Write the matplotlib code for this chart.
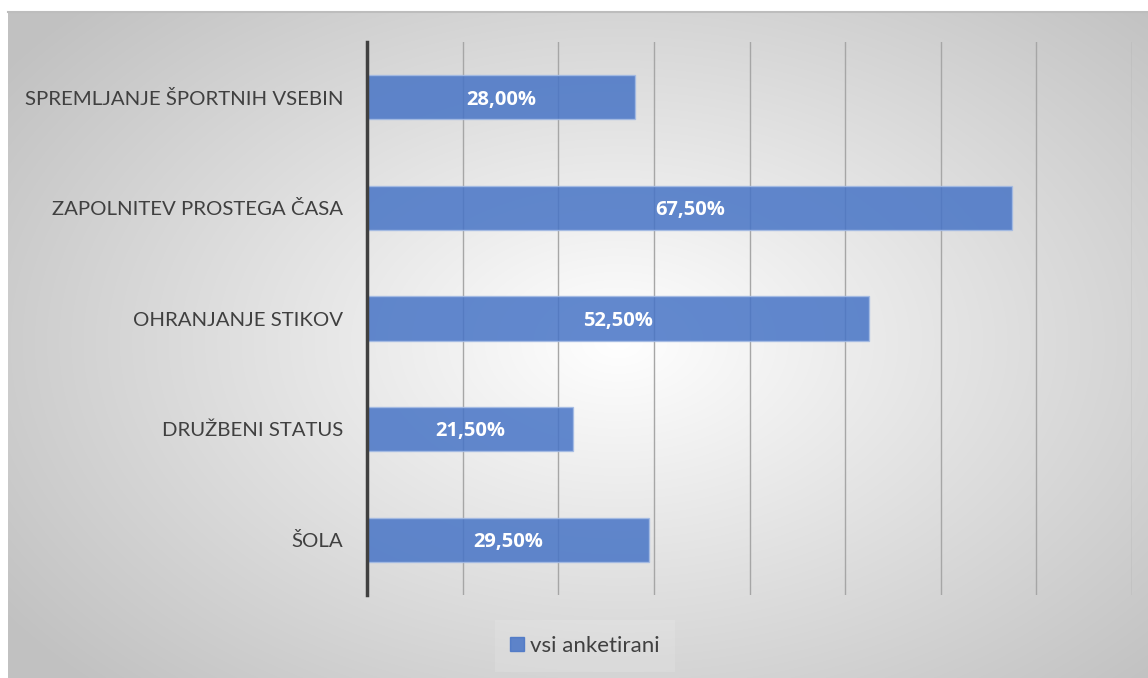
import matplotlib.pyplot as plt
import numpy as np
from matplotlib.patches import Patch

categories = ['ŠOLA', 'DRUŽBENI STATUS', 'OHRANJANJE STIKOV',
              'ZAPOLNITEV PROSTEGA ČASA', 'SPREMLJANJE ŠPORTNIH VSEBIN']
values = [29.5, 21.5, 52.5, 67.5, 28.0]
series_name = 'vsi anketirani'

plt.rcParams['font.family'] = ['Lato', 'DejaVu Sans']

W, H = 1148, 678
fig = plt.figure(figsize=(W / 100, H / 100), dpi=100)
fig.patch.set_facecolor('white')

# radial gradient background of the chart area
bg = fig.add_axes([8 / W, 0, 1 - 8 / W, 1 - 12 / H])
yy, xx = np.mgrid[0:666, 0:1140]
cx, cy = 610, 330
r = np.sqrt(((xx - cx) / 620.0) ** 2 + ((yy - cy) / 400.0) ** 2)
g = 1.0 - 0.24 * np.clip(r, 0, 1.2) / 1.2
bg.imshow(np.dstack([g, g, g]), aspect='auto', extent=[0, 1, 0, 1], origin='upper')
bg.axis('off')
fig.add_artist(plt.Line2D([8 / W, 1], [1 - 12 / H, 1 - 12 / H], color='#bdbdbd', lw=1.5,
                          transform=fig.transFigure))

ax = fig.add_axes([367 / W, 1 - 595 / H, (1132 - 367) / W, (595 - 42) / H])
ax.patch.set_alpha(0)

y = np.arange(len(categories))
bars = ax.barh(y, values, height=0.4, color='#4774C6', alpha=0.85,
               edgecolor='#a4bbe4', linewidth=1, zorder=3)
for b, v in zip(bars, values):
    ax.text(v / 2, b.get_y() + b.get_height() / 2 - 0.02, f'{v:.2f}%'.replace('.', ','),
            ha='center', va='center', color='white', fontsize=14.5, fontweight='bold',
            family='Open Sans', zorder=4)

ax.set_xlim(0, 80)
ax.set_ylim(-0.5, len(categories) - 0.5)
ax.set_xticks(np.arange(0, 81, 10))
ax.set_xticklabels([])
ax.set_yticks(y)
ax.set_yticklabels(categories, fontsize=14.7, color='#404040')
ax.tick_params(length=0, pad=17)
ax.grid(axis='x', color='#a6a6a6', linewidth=1, zorder=0)
for s in ['top', 'right', 'bottom']:
    ax.spines[s].set_visible(False)
ax.spines['left'].set_color('#404040')
ax.spines['left'].set_linewidth(2.5)
ax.spines['left'].set_zorder(5)

leg = fig.legend(handles=[Patch(color='#4774C6', alpha=0.85, label=series_name)],
                 loc='center', bbox_to_anchor=(585 / W, 1 - 646 / H), frameon=True,
                 fontsize=16, handlelength=0.6, handleheight=0.6, handletextpad=0.3,
                 borderpad=0.7, borderaxespad=0, fancybox=False)
leg.get_frame().set_facecolor('white')
leg.get_frame().set_alpha(0.12)
leg.get_frame().set_edgecolor('none')
for t in leg.get_texts():
    t.set_color('#404040')

fig.savefig('out.png', dpi=100)
